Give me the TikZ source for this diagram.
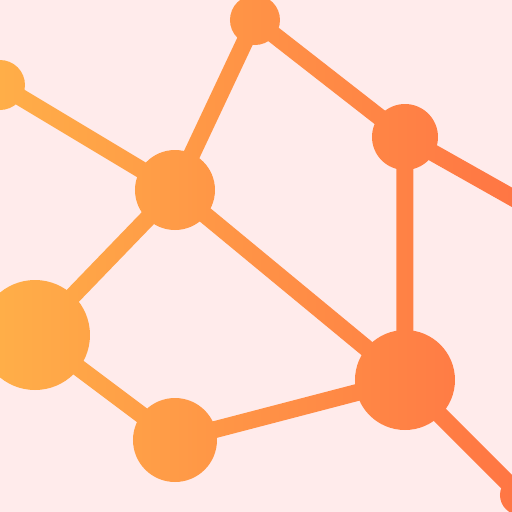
\documentclass[tikz,border=0pt]{standalone}
\usetikzlibrary{fadings}
\tikzset{dot/.style={circle,fill=transparent!0,inner sep=0pt,minimum size=#1},
 link/.style={draw=transparent!0,line width=17pt}}
\begin{tikzfadingfrompicture}[name=net,x=1pt,y=-1pt]
\useasboundingbox (-256,-256) rectangle (256,256);
\begin{scope}[shift={(-256,-256)}]
\node[dot=50pt] (A) at (0,85) {};
\node[dot=50pt] (B) at (255,20) {};
\node[dot=66pt] (C) at (405,137) {};
\node[dot=80pt] (D) at (175,190) {};
\node[dot=110pt] (E) at (35,335) {};
\node[dot=100pt] (F) at (405,380) {};
\node[dot=84pt] (G) at (175,440) {};
\node[dot=40pt] (I) at (520,495) {};
\coordinate (H) at (570,230);
\draw[link] (A.center) -- (D.center);
\draw[link] (D.center) -- (B.center);
\draw[link] (B.center) -- (C.center);
\draw[link] (C.center) -- (H);
\draw[link] (C.center) -- (F.center);
\draw[link] (D.center) -- (F.center);
\draw[link] (D.center) -- (E.center);
\draw[link] (E.center) -- (G.center);
\draw[link] (G.center) -- (F.center);
\draw[link] (F.center) -- (I.center);
\end{scope}
\end{tikzfadingfrompicture}
\begin{document}
\begin{tikzpicture}[x=1pt,y=-1pt]
\fill[fill={rgb,255:red,255;green,235;blue,235}] (-256,-256) rectangle (256,256);
\useasboundingbox (-256,-256) rectangle (256,256);
\shade[path fading=net,fit fading=false,left color={rgb,255:red,255;green,174;blue,72},right color={rgb,255:red,255;green,118;blue,68}] (-256,-256) rectangle (256,256);
\end{tikzpicture}
\end{document}
